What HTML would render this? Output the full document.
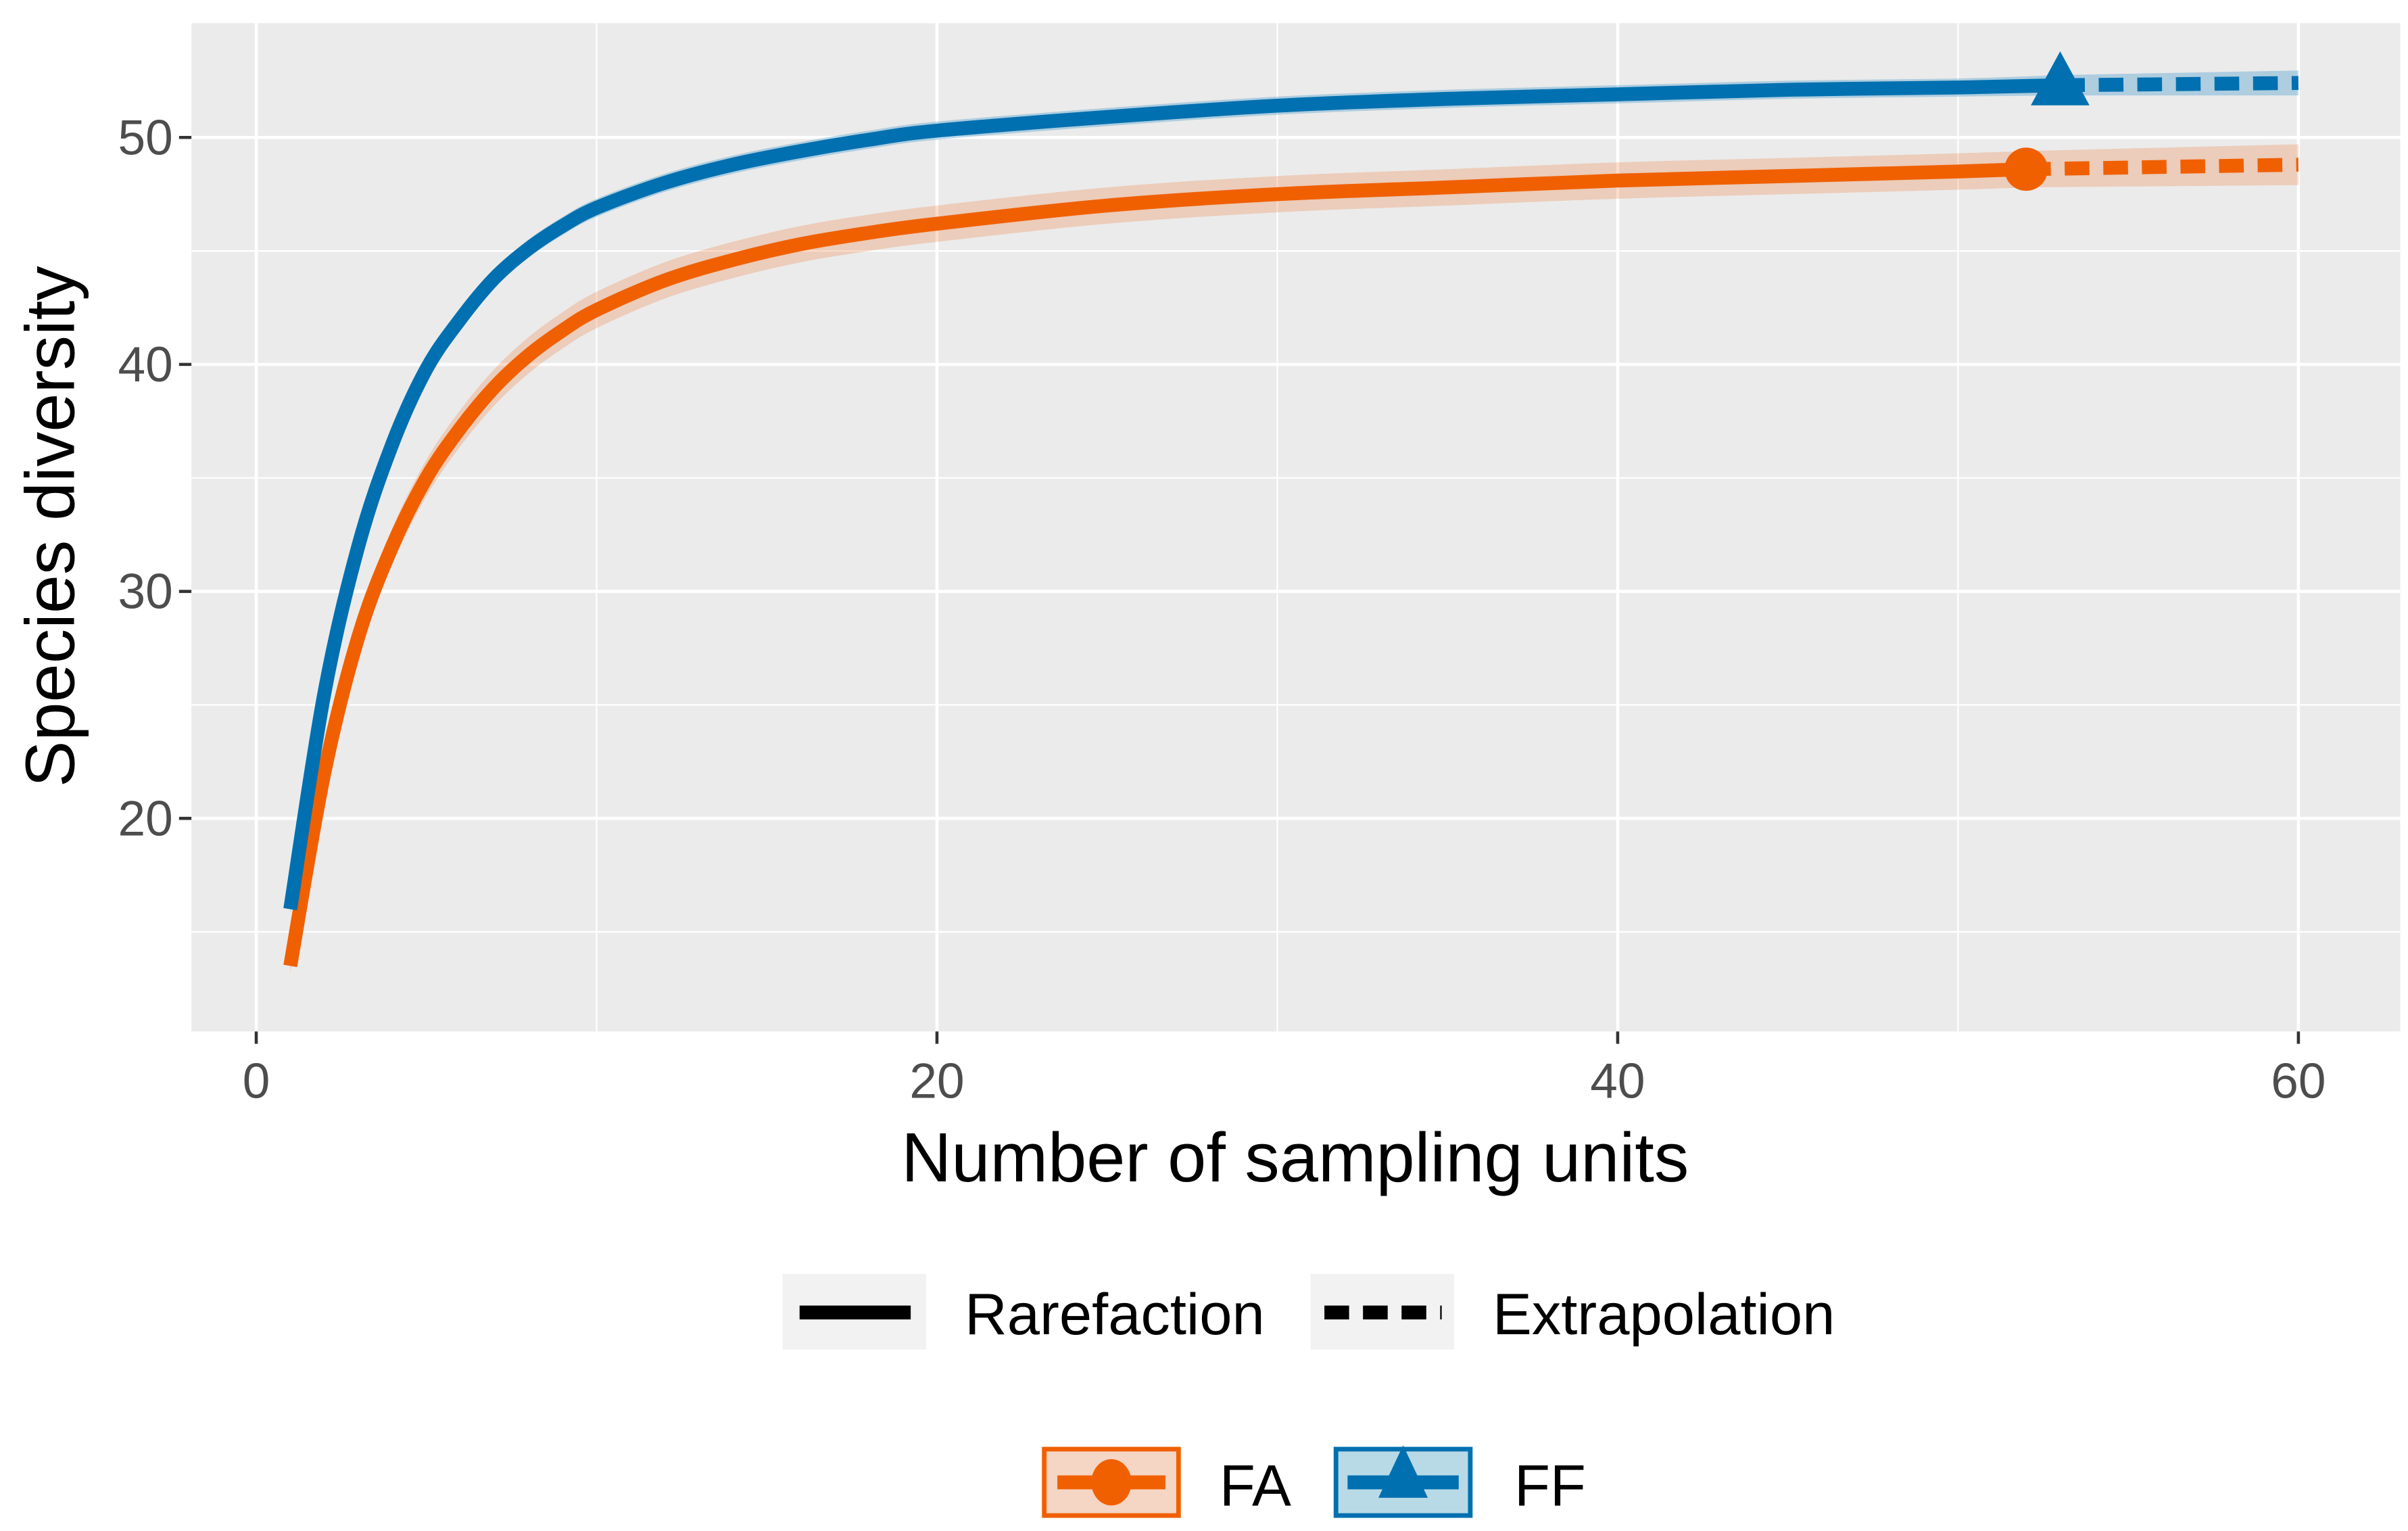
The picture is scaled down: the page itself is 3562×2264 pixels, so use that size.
<!DOCTYPE html>
<html><head><meta charset="utf-8"><style>
html,body{margin:0;padding:0;background:#fff;}
svg{display:block;font-family:"Liberation Sans",sans-serif;}
</style></head><body>
<svg id="chart" width="3562" height="2264" viewBox="0 0 1560 991.5" xmlns="http://www.w3.org/2000/svg">
<rect x="124" y="15" width="1431" height="653" fill="#ebebeb"/>
<g id="grid"></g>
<g id="bands"></g>
<g id="lines"></g>
<g id="axes"></g>
<text x="839" y="765" font-size="45" text-anchor="middle" fill="#000">Number of sampling units</text>
<text transform="translate(48,341) rotate(-90)" font-size="45" text-anchor="middle" fill="#000">Species diversity</text>
<g>
<rect x="507" y="825" width="93" height="49" fill="#f2f2f2"/>
<line x1="518" y1="850" x2="590" y2="850" stroke="#000" stroke-width="9"/>
<text x="625" y="864" font-size="38" fill="#000">Rarefaction</text>
<rect x="849" y="825" width="93" height="49" fill="#f2f2f2"/>
<line x1="858" y1="850" x2="934" y2="850" stroke="#000" stroke-width="9" stroke-dasharray="16,9"/>
<text x="967" y="864" font-size="38" fill="#000">Extrapolation</text>
</g>
<g>
<rect x="676.5" y="938.5" width="87" height="43" fill="#f5d5c3" stroke="#f06000" stroke-width="3"/>
<line x1="685" y1="960" x2="755" y2="960" stroke="#f06000" stroke-width="9"/>
<ellipse cx="720" cy="960" rx="13" ry="15" fill="#f06000"/>
<text x="790" y="975" font-size="38" fill="#000">FA</text>
<rect x="865.5" y="938.5" width="87" height="43" fill="#b8dae6" stroke="#0070b0" stroke-width="3"/>
<line x1="873" y1="960" x2="945" y2="960" stroke="#0070b0" stroke-width="9"/>
<polygon points="909,936 893,970 925,970" fill="#0070b0"/>
<text x="981" y="975" font-size="38" fill="#000">FF</text>
</g>
</svg>
<script>
const xTicks=[0,20,40,60];
const yTicks=[20,30,40,50];
const faX=[1,2,3,4,5,6,7,8,9,10,12,14,16,18,20,25,30,35,40,45,50,52];
const faY=[13.5,22,28,32,35,37.2,39,40.4,41.5,42.4,43.7,44.6,45.3,45.8,46.2,47,47.5,47.8,48.1,48.3,48.5,48.6];
const faBand=[0.3,0.6,0.8,0.8,0.8,0.8,0.8,0.8,0.8,0.8,0.8,0.8,0.8,0.8,0.8,0.8,0.8,0.8,0.8,0.8,0.8,0.8];
const faExtX=[52,60];
const faExtY=[48.6,48.8];
const faExtBand=[0.8,0.9];
const ffX=[1,2,3,4,5,6,7,8,9,10,12,14,16,18,20,25,30,35,40,45,50,53];
const ffY=[16,25.5,32,36.5,39.8,42,43.8,45.1,46.1,46.9,48,48.8,49.4,49.9,50.3,50.9,51.4,51.7,51.9,52.1,52.2,52.3];
const ffBand=[0.2,0.3,0.4,0.4,0.4,0.4,0.4,0.4,0.4,0.4,0.4,0.4,0.4,0.4,0.4,0.4,0.4,0.4,0.4,0.4,0.4,0.45];
const ffExtX=[53,60];
const ffExtY=[52.3,52.4];
const ffExtBand=[0.45,0.55];

const NS="http://www.w3.org/2000/svg";
const sx=v=>166+(1489-166)*v/60;
const sy=v=>530-(530-89)*(v-20)/30;
function mk(tag,attrs,parent){const e=document.createElementNS(NS,tag);for(const k in attrs)e.setAttribute(k,attrs[k]);parent.appendChild(e);return e;}
function smooth(pts){
 if(pts.length<3)return 'M'+pts.map(p=>p[0]+','+p[1]).join(' L');
 let d='M'+pts[0][0]+','+pts[0][1];
 for(let i=0;i<pts.length-1;i++){
  const p0=pts[Math.max(0,i-1)],p1=pts[i],p2=pts[i+1],p3=pts[Math.min(pts.length-1,i+2)];
  const c1=[p1[0]+(p2[0]-p0[0])/6,p1[1]+(p2[1]-p0[1])/6];
  const c2=[p2[0]-(p3[0]-p1[0])/6,p2[1]-(p3[1]-p1[1])/6];
  d+=' C'+c1[0]+','+c1[1]+' '+c2[0]+','+c2[1]+' '+p2[0]+','+p2[1];
 }
 return d;
}
const grid=document.getElementById('grid'),bands=document.getElementById('bands'),lines=document.getElementById('lines'),axes=document.getElementById('axes');
for(let i=0;i<xTicks.length-1;i++){const m=(xTicks[i]+xTicks[i+1])/2;
 const g=mk('line',{x1:sx(m),x2:sx(m),y1:15,y2:668,stroke:'#fff','stroke-width':1},grid);
 
 }
for(let i=0;i<yTicks.length;i++){const m=yTicks[i]-5;
 const g=mk('line',{x1:124,x2:1555,y1:sy(m),y2:sy(m),stroke:'#fff','stroke-width':1},grid);
 
 }
xTicks.forEach(t=>{
 const g=mk('line',{x1:sx(t),x2:sx(t),y1:15,y2:668,stroke:'#fff','stroke-width':2},grid);
 
 
 mk('line',{x1:sx(t),x2:sx(t),y1:668,y2:676,stroke:'#333','stroke-width':2},axes);
 const tx=mk('text',{x:sx(t),y:711,'font-size':32,'text-anchor':'middle',fill:'#4d4d4d'},axes);
 tx.textContent=t;
 
 
});
yTicks.forEach(t=>{
 const g=mk('line',{x1:124,x2:1555,y1:sy(t),y2:sy(t),stroke:'#fff','stroke-width':2},grid);
 
 
 mk('line',{x1:116,x2:124,y1:sy(t),y2:sy(t),stroke:'#333','stroke-width':2},axes);
 const tx=mk('text',{x:112,y:sy(t)+11,'font-size':32,'text-anchor':'end',fill:'#4d4d4d'},axes);
 tx.textContent=t;
 
 
});
function band(xs,ys,bs,fill,name){
 const up=xs.map((x,i)=>[sx(x),sy(ys[i]+bs[i])]);
 const dn=xs.map((x,i)=>[sx(x),sy(ys[i]-bs[i])]).reverse();
 const d=smooth(up)+' L'+smooth(dn).slice(1)+' Z';
 const p=mk('path',{d:d,fill:fill},bands);
 
 
}
function line(xs,ys,col,dash,name){
 const p=mk('path',{d:smooth(xs.map((x,i)=>[sx(x),sy(ys[i])])),fill:'none',stroke:col,'stroke-width':9,'stroke-linejoin':'round'},lines);
 if(dash)p.setAttribute('stroke-dasharray',dash);
 
 
}
band(faX,faY,faBand,'rgba(240,110,40,0.25)','fa-confidence-band');
band(faExtX,faExtY,faExtBand,'rgba(240,110,40,0.25)','fa-extrapolation-band');
band(ffX,ffY,ffBand,'rgba(60,150,200,0.35)','ff-confidence-band');
band(ffExtX,ffExtY,ffExtBand,'rgba(60,150,200,0.35)','ff-extrapolation-band');
line(faX,faY,'#f06000',null,'fa-rarefaction-line');
line(faExtX,faExtY,'#f06000','16,9','fa-extrapolation-line');
line(ffX,ffY,'#0070b0',null,'ff-rarefaction-line');
line(ffExtX,ffExtY,'#0070b0','16,9','ff-extrapolation-line');
const fl=faX.length-1,bl=ffX.length-1;
const c=mk('circle',{cx:sx(faX[fl]),cy:sy(faY[fl]),r:14,fill:'#f06000'},lines);


const tx=sx(ffX[bl]),ty=sy(ffY[bl]);
const tr=mk('polygon',{points:`${tx},${ty-22} ${tx-19},${ty+13} ${tx+19},${ty+13}`,fill:'#0070b0'},lines);


</script>
</body></html>
